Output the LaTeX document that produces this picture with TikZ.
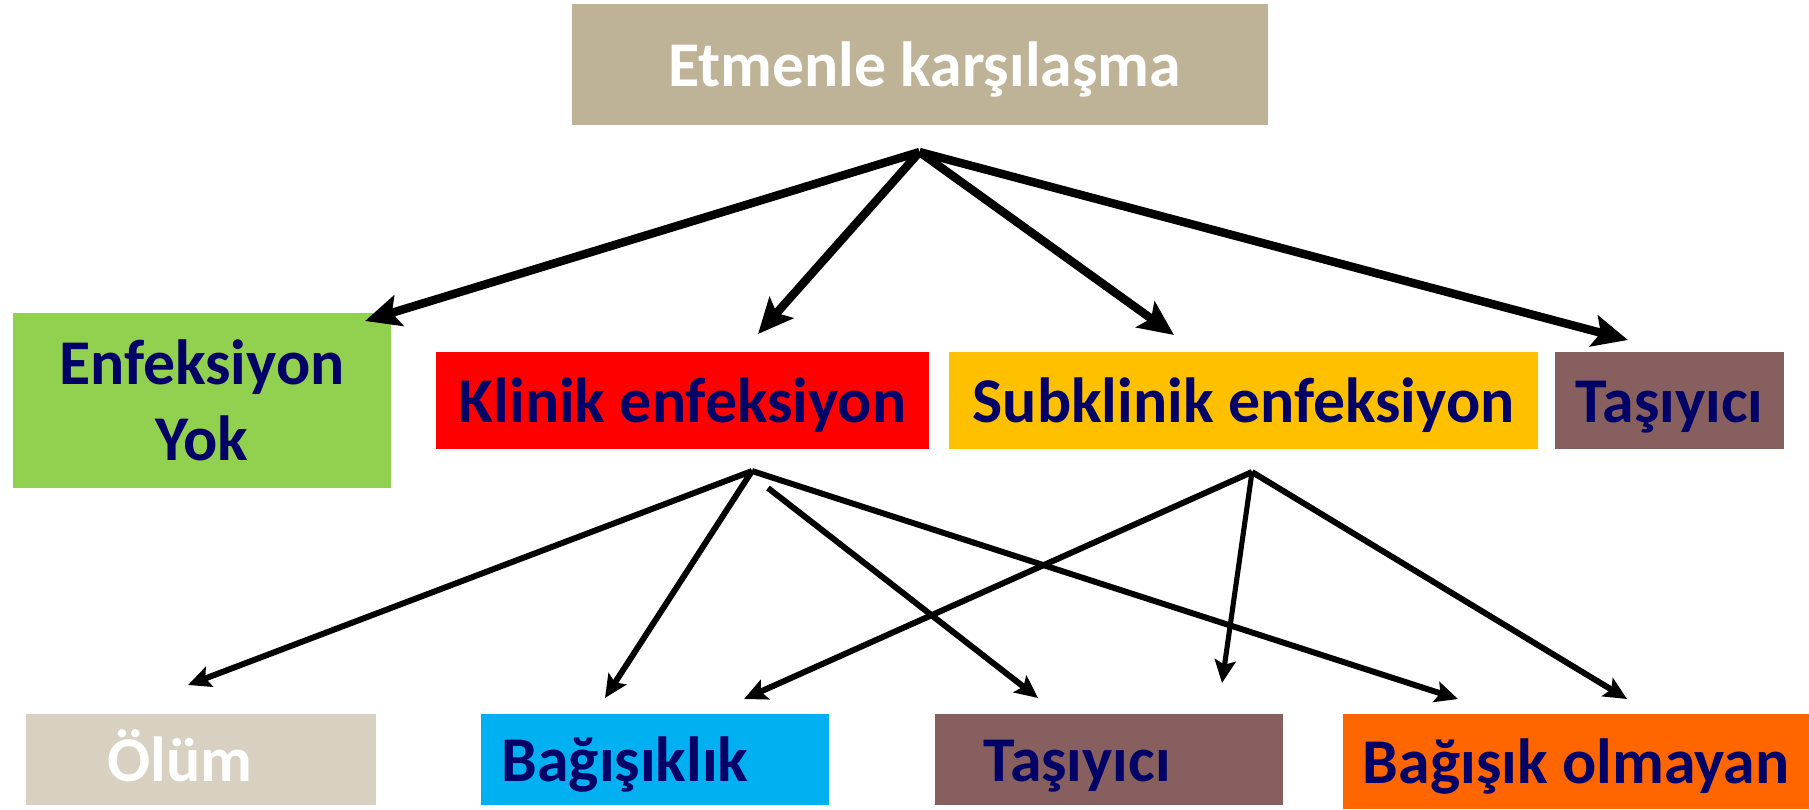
\documentclass[tikz,border=0pt]{standalone}
\usepackage{fontspec}
\setmainfont{Carlito}
\usepackage{tikz}
\usetikzlibrary{arrows.meta,positioning,calc}
\definecolor{tanbox}{HTML}{BFB397}
\definecolor{greenbox}{HTML}{92D050}
\definecolor{redbox}{HTML}{FF0000}
\definecolor{goldbox}{HTML}{FFC000}
\definecolor{brownbox}{HTML}{875F5F}
\definecolor{greybox}{HTML}{D8D0C0}
\definecolor{bluebox}{HTML}{00B0F0}
\definecolor{orangebox}{HTML}{FF6600}
\definecolor{navy}{HTML}{000066}

\begin{document}
\begin{tikzpicture}[x=0.02cm,y=-0.02cm,
  box/.style={inner sep=0pt,font=\bfseries\fontsize{36.3}{43.4}\selectfont,text=navy,text height=27.2pt,text depth=1.8pt},
  upper/.style={box,minimum height=1.94cm},
  lower/.style={box,minimum height=1.82cm,minimum width=6.97cm},
  big/.style={line width=4.8pt,-{Stealth[length=20pt,width=18pt,inset=4pt]}},
  small/.style={line width=3.4pt,-{Stealth[length=13pt,width=12pt,inset=2.5pt]}}]
\useasboundingbox (0,0) rectangle (1809,809);
\node[box,fill=tanbox,text=white,minimum width=13.92cm,minimum height=2.42cm] (etm) at (920,64.5) {\hspace*{0.18cm}Etmenle karşılaşma};
\node[box,fill=greenbox,minimum width=7.56cm,minimum height=3.5cm,align=center,text height=,text depth=] (yok) at (202,400.5) {Enfeksiyon\\Yok};
\node[upper,fill=redbox,minimum width=9.86cm] (klinik) at (682.5,400.5) {Klinik enfeksiyon};
\node[upper,fill=goldbox,minimum width=11.78cm] (subk) at (1243.5,400.5) {Subklinik enfeksiyon};
\node[upper,fill=brownbox,minimum width=4.58cm] (tasa) at (1669.5,400.5) {Taşıyıcı};
\node[lower,fill=greybox,text=white,minimum width=6.99cm] (olum) at (201,759.5) {Ölüm\hspace*{0.84cm}};
\node[lower,fill=bluebox] (bag) at (655,759.5) {Bağışıklık\hspace*{1.2cm}};
\node[lower,fill=brownbox] (tasb) at (1109,759.5) {Taşıyıcı\hspace*{1.28cm}};
\node[lower,fill=orangebox,minimum width=9.32cm,minimum height=1.9cm] (bago) at (1576,761.5) {Bağışık olmayan};
\coordinate (etmfork) at (919.5,152);
\coordinate (klfork) at (752,471);
\coordinate (klstart) at (768,488);
\coordinate (skfork) at (1252,472);
\coordinate (yokin) at (365,321);
\coordinate (klin) at (758,334);
\coordinate (skin) at (1174,335);
\coordinate (tasain) at (1628,340);
\coordinate (olumin) at (188,685);
\coordinate (bagkl) at (605,698);
\coordinate (bagsk) at (744,699);
\coordinate (tasbkl) at (1038,698);
\coordinate (tasbsk) at (1222,683);
\coordinate (bagokl) at (1458,699);
\coordinate (bagosk) at (1627,699);
\draw[big] (etmfork) -- (yokin);
\draw[big] (etmfork) -- (klin);
\draw[big] (etmfork) -- (skin);
\draw[big] (etmfork) -- (tasain);
\draw[small] (klfork) -- (olumin);
\draw[small] (klfork) -- (bagkl);
\draw[small] (klstart) -- (tasbkl);
\draw[small] (klfork) -- (bagokl);
\draw[small] (skfork) -- (bagsk);
\draw[small,line width=2.9pt] (skfork) -- (tasbsk);
\draw[small] (skfork) -- (bagosk);
\end{tikzpicture}
\end{document}
